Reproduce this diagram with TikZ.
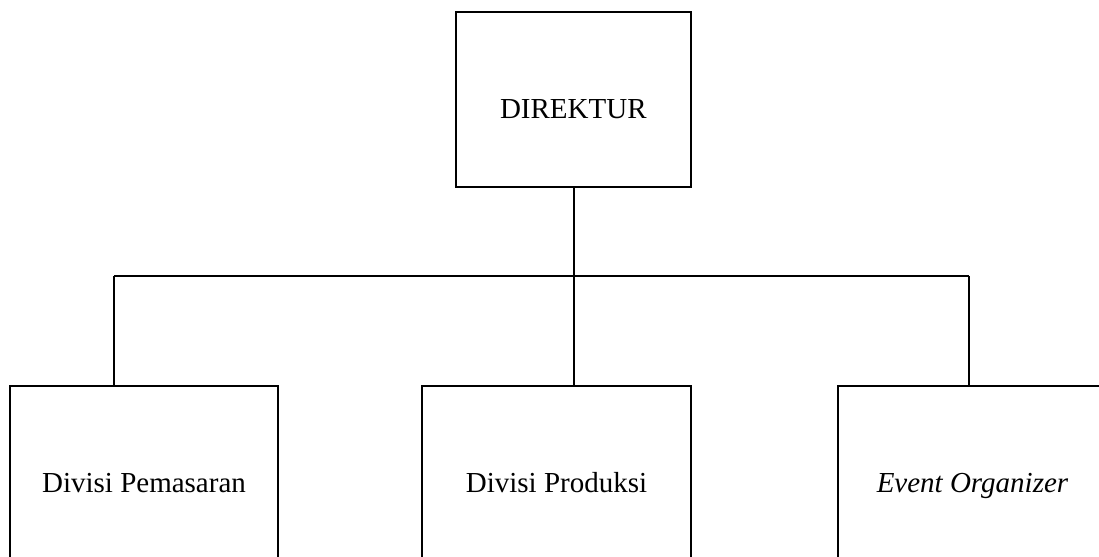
\documentclass[tikz,border=0pt]{standalone}
\usepackage{fontspec}
\setmainfont{Liberation Serif}
\usepackage{tikz}

\begin{document}
\begin{tikzpicture}[x=0.4pt,y=-0.4pt,line width=0.7pt,
   box/.style={draw,rectangle,minimum height=70pt,
   text height=15pt,text depth=0pt,font=\fontsize{11.6}{14}\selectfont}]

\tikzstyle {link} = [-, line width=0.7pt];

\useasboundingbox (0,0) rectangle (1099,557);

\node[box,minimum width=93.9pt] (dir) at (573.3,99.5){DIREKTUR};
\node[box,minimum width=107.2pt] (pem) at (144,473.5){Divisi Pemasaran};
\node[box,minimum width=107.6pt] (pro) at (556.5,473.5){Divisi Produksi};
\node[box,minimum width=107.6pt] (eo) at (972.5,473.5){\textit{Event Organizer}};

\coordinate (jm) at (574,276);
\coordinate (jl) at (114,276);
\coordinate (jr) at (969,276);

%\draw [->] (dir) -- (pro);

\path (dir.south -| jm) edge [link]  (jm);
\path (jl) edge [link]  (jr);
\path (jl) edge [link]  (jl |- pem.north);
\path (jm) edge [link]  (jm |- pro.north);
\path (jr) edge [link]  (jr |- eo.north);

\end{tikzpicture}
\end{document}
